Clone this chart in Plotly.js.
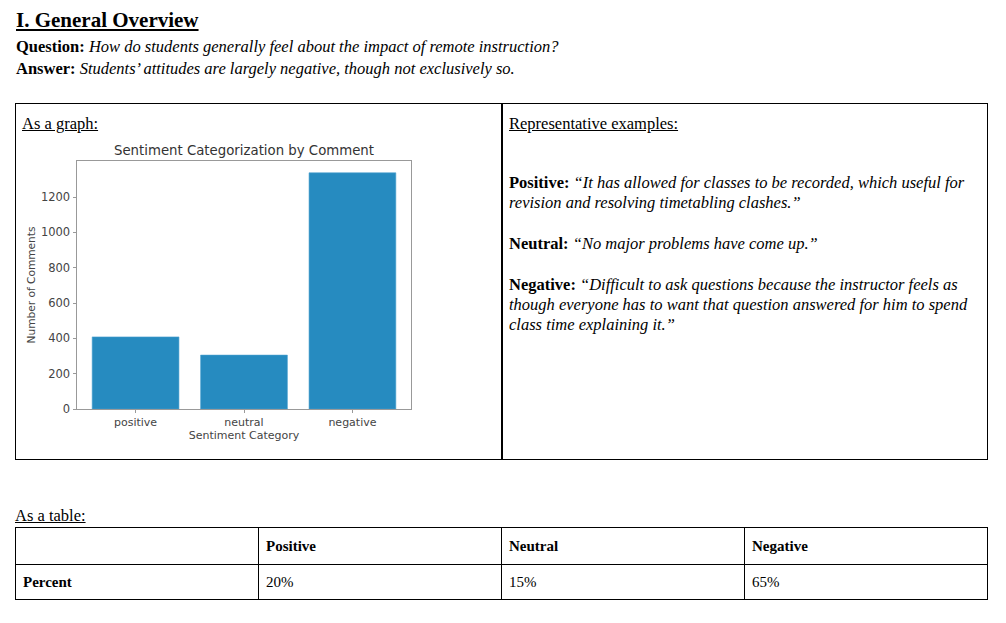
<!DOCTYPE html>
<html>
<head>
<meta charset="utf-8">
<script src="https://cdn.plot.ly/plotly-3.0.1.min.js"></script>
<style>
  html, body { margin:0; padding:0; background:#fff; }
  body { width:1006px; height:623px; position:relative; overflow:hidden;
         font-family:"Liberation Serif","Times New Roman",serif; color:#000; }
  .abs { position:absolute; white-space:nowrap; }
  .t16 { font-size:16.5px; line-height:20px; }
  .box { position:absolute; border:1.5px solid #000; box-sizing:border-box; }
  .vl { position:absolute; background:#000; }
  table.sent { position:absolute; left:15px; top:527px; width:973px; border-collapse:collapse;
               font-size:15px; table-layout:fixed; }
  table.sent td { border:1.5px solid #000; padding:0 0 0 7px; vertical-align:middle; }
</style>
</head>
<body>
<div class="abs" style="left:16px;top:8px;font-size:21px;font-weight:bold;text-decoration:underline;">I. General Overview</div>
<div class="abs t16" style="left:16px;top:37px;"><b>Question:</b> <i>How do students generally feel about the impact of remote instruction?</i></div>
<div class="abs t16" style="left:16px;top:59px;"><b>Answer:</b> <i>Students’ attitudes are largely negative, though not exclusively so.</i></div>

<div class="box" style="left:15px;top:103px;width:973px;height:357px;"></div>
<div class="vl" style="left:501px;top:103px;height:357px;width:1.5px;"></div>

<div class="abs t16" style="left:22px;top:114px;text-decoration:underline;">As a graph:</div>
<div class="abs t16" style="left:509px;top:114px;text-decoration:underline;">Representative examples:</div>

<div class="abs t16" style="left:509px;top:173px;"><b>Positive:</b> <i>“It has allowed for classes to be recorded, which useful for<br>revision and resolving timetabling clashes.”</i></div>
<div class="abs t16" style="left:509px;top:234px;"><b>Neutral:</b> <i>“No major problems have come up.”</i></div>
<div class="abs t16" style="left:509px;top:275px;"><b>Negative:</b> <i>“Difficult to ask questions because the instructor feels as<br>though everyone has to want that question answered for him to spend<br>class time explaining it.”</i></div>

<div id="chart" style="position:absolute;left:16px;top:135px;width:484px;height:324px;"></div>

<div class="abs t16" style="left:15px;top:506px;text-decoration:underline;">As a table:</div>
<table class="sent" id="tbl"></table>

<script>
// ---- data ----
var categories = ["positive", "neutral", "negative"];
var commentCounts = [408, 305, 1337];
var yTicks = [0, 200, 400, 600, 800, 1000, 1200];
var tableHeaders = ["", "Positive", "Neutral", "Negative"];
var tableRowLabel = "Percent";
var tablePercents = ["20%", "15%", "65%"];

// ---- table ----
(function(){
  var t = document.getElementById('tbl');
  var r1 = document.createElement('tr'); r1.style.height = '37px';
  tableHeaders.forEach(function(h){ var td=document.createElement('td'); td.innerHTML = h ? '<b>'+h+'</b>' : ''; r1.appendChild(td); });
  t.appendChild(r1);
  var r2 = document.createElement('tr'); r2.style.height = '35px';
  var td0 = document.createElement('td'); td0.innerHTML = '<b>'+tableRowLabel+'</b>'; r2.appendChild(td0);
  tablePercents.forEach(function(p){ var td=document.createElement('td'); td.textContent=p; r2.appendChild(td); });
  t.appendChild(r2);
})();

// ---- chart ----
var fontFam = "DejaVu Sans, sans-serif";
var trace = {
  type: 'bar', x: categories, y: commentCounts, width: 0.8,
  marker: { color: '#268bc0', line: { color: '#4a9fcf', width: 0.6 } },
  hoverinfo: 'none'
};
var maxVal = Math.max.apply(null, commentCounts);
var layout = {
  width: 484, height: 324,
  margin: { l: 61, r: 89, t: 26, b: 50, pad: 0 },
  paper_bgcolor: '#fff', plot_bgcolor: '#fff',
  showlegend: false,
  font: { family: fontFam, size: 11, color: '#444' },
  title: { text: 'Sentiment Categorization by Comment', font: { family: fontFam, size: 13.3, color: '#333' },
           x: 0.5, xref: 'paper', xanchor: 'center', y: 1 - 15/324, yref: 'container', yanchor: 'middle' },
  xaxis: {
    type: 'category', range: [-0.54, 2.54], showgrid: false, zeroline: false,
    showline: true, mirror: true, linecolor: '#999', linewidth: 1,
    ticks: 'outside', ticklen: 3, tickcolor: '#999',
    tickfont: { family: fontFam, size: 11, color: '#444' },
    title: { text: 'Sentiment Category', font: { family: fontFam, size: 11, color: '#444' }, standoff: 3 }
  },
  yaxis: {
    range: [0, maxVal * 1.05], tickvals: yTicks, showgrid: false, zeroline: false,
    showline: true, mirror: true, linecolor: '#999', linewidth: 1,
    ticks: 'outside', ticklen: 3.5, tickcolor: '#999',
    tickfont: { family: fontFam, size: 11.5, color: '#444' },
    title: { text: 'Number of Comments', font: { family: fontFam, size: 10.6, color: '#444' }, standoff: 3 }
  }
};
Plotly.newPlot('chart', [trace], layout, { displayModeBar: false, staticPlot: true });
</script>
</body>
</html>
